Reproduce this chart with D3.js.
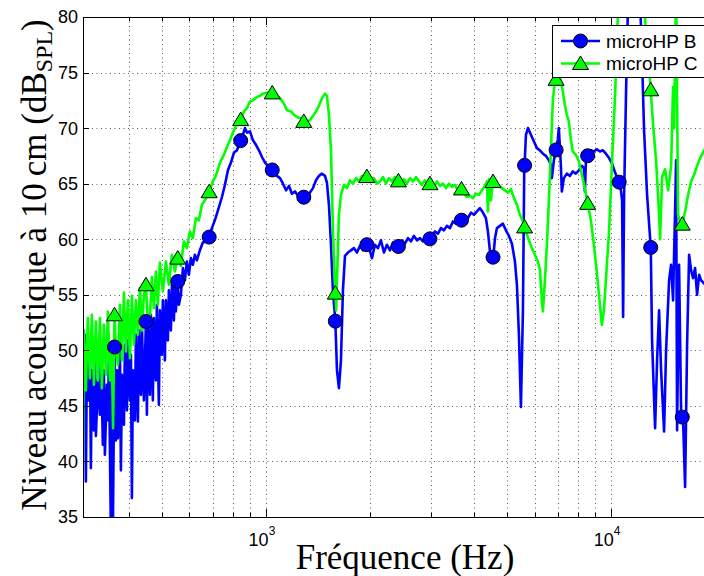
<!DOCTYPE html>
<html><head><meta charset="utf-8">
<script src="https://cdn.jsdelivr.net/npm/d3@7"></script>
<style>
body{margin:0;background:#fff}svg{display:block}
.sans{font-family:"Liberation Sans",Arial,sans-serif}
.serif{font-family:"Liberation Serif","DejaVu Serif",serif}
</style>
</head><body>
<svg id="c" width="704" height="576"></svg>
<script>
// ---------- data ----------
const seriesNames = ["microHP B", "microHP C"];
const xDomain = [295, 20000];
const yDomain = [35, 80];
const yTicks = [35, 40, 45, 50, 55, 60, 65, 70, 75, 80];
const xMajorTicks = [1000, 10000];
const xMajorExps = ["3", "4"];
const xMinorTicks = [400, 500, 600, 700, 800, 900, 2000, 3000, 4000, 5000, 6000, 7000, 8000, 9000];
const markerFreqs = [364, 449, 555, 684.5, 844.8, 1042.7, 1286.9, 1588.3, 1960.3, 2419.4, 2986, 3685.4, 4548.5, 5613.8, 6928.6, 8551.3, 10554, 13026, 16077];

// microHP B : [Hz, dB]
const dataB = [
[294.7,51.8],[296.7,44.6],[298.6,51.4],[300.7,38.2],[302.7,49.1],[306.8,45.5],[308.9,50.9],[310.9,39.4],[313.0,48.2],[317.2,42.8],[319.3,50.5],[321.5,42.3],[325.8,47.3],[330.2,44.2],[332.4,50.0],[336.8,41.5],[339.1,48.2],[341.4,40.6],[345.9,46.9],[348.3,43.7],[350.6,49.1],[355.3,33.8],[357.7,47.3],[360.1,33.8],[364,50.3],[367.4,41.9],[369.9,48.2],[372.4,42.1],[377.4,50.0],[379.9,39.2],[382.5,47.8],[387.6,43.3],[390.2,50.5],[395.4,44.6],[398.1,50.9],[403.4,45.5],[406.1,49.6],[408.8,36.7],[411.5,48.2],[417.1,43.7],[419.9,51.4],[425.5,43.6],[428.3,51.8],[434.1,46.0],[437.0,52.3],[442.8,45.5],[449,52.6],[451.8,44.2],[454.8,52.3],[460.9,46.0],[464.0,53.2],[470.2,45.5],[473.4,52.9],[479.7,47.3],[482.9,54.1],[489.4,45.1],[492.7,53.6],[499.3,49.6],[502.6,54.5],[509.4,49.1],[512.8,54.5],[519.7,50.9],[523.2,55.4],[530.2,51.8],[533.8,55.9],[541.0,52.7],[544.6,56.5],[548,53.5],[555,56.2],[559.3,54.1],[566.8,55.0],[574.5,57.4],[582.2,56.3],[590.0,58.0],[597.9,56.8],[605.9,58.3],[614.0,57.7],[622.3,58.6],[630.6,58.1],[643.4,59.0],[656.3,59.7],[669.6,59.8],[683.1,60.1],[697.0,61.0],[710.9,61.7],[725.8,62.6],[745.5,63.8],[760.5,64.9],[775.8,66.2],[791.6,66.9],[807.6,67.8],[824.0,68.0],[840.6,68.7],[857.5,69.4],[869.0,70.0],[880.8,69.6],[898.6,69.7],[916.7,68.9],[935.2,68.5],[954.1,68.0],[973.6,67.4],[993.4,66.9],[1013,66.6],[1034,66.4],[1055,66.0],[1076,65.7],[1098,65.5],[1120,65.0],[1143,64.4],[1166,64.8],[1189,64.1],[1214,64.3],[1238,63.9],[1263,63.6],[1289,63.8],[1314,63.9],[1341,64.2],[1368,64.6],[1396,65.3],[1424,65.7],[1453,65.9],[1482,65.7],[1502,65.1],[1522,63.1],[1543,59.5],[1563,55.4],[1588,52.7],[1606,48.2],[1627,46.6],[1649,49.1],[1671,55.4],[1694,58.5],[1728,58.8],[1763,59.0],[1799,59.2],[1835,58.8],[1872,59.4],[1910,59.0],[1948,59.6],[1988,59.3],[2028,58.3],[2069,59.5],[2111,59.2],[2153,59.9],[2197,58.8],[2241,59.5],[2287,59.0],[2333,59.7],[2380,59.1],[2428,59.4],[2477,59.9],[2527,59.6],[2579,60.1],[2631,59.8],[2684,60.3],[2738,59.9],[2793,60.1],[2850,59.8],[2907,60.3],[2966,59.9],[3026,60.3],[3087,60.7],[3150,60.5],[3213,61.0],[3278,60.8],[3344,61.2],[3412,61.0],[3481,61.6],[3551,61.4],[3623,61.8],[3696,61.7],[3771,62.1],[3847,61.9],[3925,62.4],[4004,62.2],[4085,62.5],[4168,62.8],[4252,62.4],[4338,61.9],[4396,60.7],[4456,58.9],[4515,58.3],[4555,58.4],[4610,60.1],[4669,61.0],[4763,61.2],[4859,61.4],[4957,60.8],[5057,60.3],[5160,59.6],[5264,58.0],[5335,55.9],[5406,51.4],[5479,44.9],[5553,53.6],[5600,65.9],[5665,69.4],[5741,70.0],[5857,69.4],[5976,68.8],[6096,68.2],[6219,68.0],[6345,67.7],[6472,67.5],[6603,67.1],[6691,66.7],[6736,65.5],[6826,67.1],[6917,67.9],[7010,69.0],[7056,70.0],[7151,66.7],[7199,64.3],[7295,65.5],[7442,65.9],[7597,65.7],[7745,66.1],[7901,65.9],[8066,66.2],[8230,66.6],[8340,66.4],[8395,64.3],[8451,66.9],[8566,67.6],[8739,68.0],[8915,67.9],[9094,68.1],[9280,67.9],[9467,68.0],[9658,67.7],[9867,67.3],[10066,66.8],[10270,66.0],[10477,65.3],[10619,65.0],[10761,63.5],[10833,53.0],[10905,63.9],[11051,73.4],[11200,81.5],[11578,87],[12134,81.5],[12297,76.1],[12460,69.8],[12712,64.0],[13030,59.2],[13143,50.9],[13411,43.0],[13590,49.1],[13773,53.6],[13959,48.2],[14240,42.7],[14431,50.0],[14724,56.3],[14921,57.7],[15121,54.5],[15325,62.6],[15428,67.1],[15531,42.8],[15739,57.7],[15952,44.4],[16165,43.7],[16382,37.7],[16602,50.5],[16826,58.6],[17052,57.2],[17281,56.5],[17513,57.4],[17749,55.0],[17988,56.8],[18232,56.3],[18600,56.0],[19360,56.2]
];

// microHP C : [Hz, dB]
const dataC = [
[294.7,39.2],[296.7,51.8],[300.7,46.4],[304.7,52.9],[308.9,47.5],[313.0,53.2],[317.2,46.9],[321.5,52.6],[325.8,47.3],[330.2,52.9],[334.6,46.6],[339.1,52.3],[343.7,47.8],[348.3,53.5],[353.0,47.3],[357.7,49.7],[360.5,43.0],[364,53.2],[367.4,50.2],[372.4,48.7],[377.4,54.1],[382.5,49.1],[387.6,55.2],[392.8,49.9],[398.1,54.5],[403.4,49.3],[408.8,54.9],[414.3,50.5],[419.9,54.5],[425.5,51.4],[431.2,55.6],[437.0,51.8],[442.8,54.9],[449,55.9],[454.8,52.3],[460.9,52.9],[467.1,56.6],[473.4,53.8],[479.7,57.1],[486.2,54.1],[492.7,57.9],[502.6,55.3],[512.8,58.0],[523.2,55.9],[533.8,58.6],[544.6,57.1],[555,58.3],[566.8,57.6],[578.3,59.8],[590.0,59.2],[601.9,60.7],[614.0,60.1],[626.5,61.9],[639.2,61.7],[652.0,63.1],[665.2,63.5],[683.1,64.2],[701.6,65.2],[715.7,65.7],[735.6,66.9],[755.4,67.6],[770.7,68.3],[786.4,68.9],[802.2,69.6],[818.3,70.2],[840.6,70.6],[863.5,71.5],[880.8,71.8],[898.6,72.4],[916.7,72.5],[941.4,72.8],[960.8,72.9],[980.2,73.1],[1007,73.2],[1034,73.2],[1062,73.1],[1098,72.7],[1128,72.2],[1150,71.6],[1182,71.5],[1206,71.2],[1230,71.0],[1255,70.9],[1280,70.6],[1306,70.6],[1341,70.7],[1368,71.1],[1396,71.5],[1424,72.0],[1453,72.7],[1482,73.1],[1502,72.9],[1522,71.2],[1543,68.0],[1563,60.8],[1588,55.2],[1597,53.6],[1606,56.3],[1627,62.2],[1649,64.0],[1683,64.9],[1716,64.6],[1751,65.3],[1787,65.0],[1823,65.5],[1860,65.2],[1897,65.7],[1936,65.2],[1975,65.9],[2015,65.3],[2055,65.5],[2097,65.0],[2139,65.2],[2182,65.6],[2227,65.0],[2272,65.5],[2318,65.2],[2364,65.6],[2412,65.3],[2461,65.0],[2511,65.4],[2561,65.0],[2613,65.5],[2666,65.2],[2720,65.6],[2775,65.2],[2831,64.9],[2888,65.3],[2947,64.8],[3006,65.1],[3067,64.7],[3129,65.2],[3192,64.8],[3257,65.0],[3322,64.6],[3390,65.0],[3458,64.7],[3528,64.9],[3599,64.4],[3672,64.6],[3746,64.2],[3822,63.8],[3899,63.9],[3978,63.7],[4058,64.1],[4140,64.0],[4224,64.4],[4309,64.8],[4367,65.2],[4396,62.5],[4426,65.4],[4485,63.5],[4545,65.2],[4637,65.0],[4731,64.8],[4827,64.6],[4924,64.4],[5024,64.2],[5126,64.5],[5229,63.7],[5335,63.1],[5443,62.2],[5553,61.6],[5665,60.7],[5780,59.9],[5896,59.2],[6016,58.6],[6137,58.0],[6219,57.2],[6302,54.5],[6345,53.5],[6430,56.3],[6516,59.5],[6603,63.5],[6691,68.0],[6780,72.5],[6871,74.2],[6963,74.5],[7056,74.8],[7151,74.3],[7247,73.3],[7344,72.1],[7442,71.2],[7542,70.6],[7642,69.0],[7745,67.9],[7901,67.6],[8066,67.0],[8230,65.8],[8395,64.6],[8566,63.1],[8739,61.7],[8915,59.5],[9094,57.0],[9280,54.1],[9404,52.3],[9530,53.6],[9658,56.3],[9867,60.8],[10066,67.1],[10270,73.0],[10407,78.5],[10530,82],[10905,85],[11503,87],[12134,85],[12460,81.5],[12712,76.6],[12971,74.3],[13232,70.3],[13500,67.1],[13773,62.2],[13866,60.0],[14052,65.6],[14334,66.3],[14624,64.4],[14921,66.6],[15121,73.7],[15222,70.0],[15428,83],[15637,62.2],[15849,61.5],[16062,61.3],[16382,62.5],[16715,64.0],[17052,65.2],[17398,65.8],[17749,66.6],[18110,67.3],[18600,68.0],[19360,68.5]
];

const colors = ["#0000ff", "#00ff00"];

// ---------- chart ----------
const svg = d3.select("#c");
const L = 83, R = 715, T = 17, B = 517;
const x = d3.scaleLog().domain(xDomain).range([L, R]);
const y = d3.scaleLinear().domain(yDomain).range([B, T]);

svg.append("rect").attr("width", 704).attr("height", 576).attr("fill", "#fff");
svg.append("defs").append("clipPath").attr("id", "clip")
  .append("rect").attr("x", L).attr("y", T).attr("width", R - L).attr("height", B - T);

// grid
const grid = svg.append("g").attr("stroke", "#333").attr("stroke-width", 0.8)
  .attr("stroke-dasharray", "1,3.5").attr("fill", "none");
yTicks.slice(1, -1).forEach(v => {
  grid.append("line").attr("x1", L).attr("x2", R).attr("y1", Math.round(y(v)) + 0.5).attr("y2", Math.round(y(v)) + 0.5);
});
xMinorTicks.concat(xMajorTicks).forEach(v => {
  const px = Math.round(x(v)) + 0.5;
  grid.append("line").attr("x1", px).attr("x2", px).attr("y1", T).attr("y2", B);
});

// lines + markers
const line = d3.line().x(d => x(d[0])).y(d => y(d[1]));
const plot = svg.append("g").attr("clip-path", "url(#clip)");
function interp(data, f) {
  const lf = Math.log10(f);
  for (let i = 0; i < data.length - 1; i++) {
    const a = data[i], b = data[i + 1];
    if (f >= a[0] && f <= b[0]) {
      const t = (lf - Math.log10(a[0])) / (Math.log10(b[0]) - Math.log10(a[0]));
      return a[1] + t * (b[1] - a[1]);
    }
  }
  return null;
}
const triPath = "M0,-7.5L8,6L-8,6Z";
function drawMarker(g, kind, cx, cy, col) {
  if (kind === 0) {
    g.append("circle").attr("cx", cx).attr("cy", cy).attr("r", 7)
      .attr("fill", col).attr("stroke", "#000").attr("stroke-width", 1);
  } else {
    g.append("path").attr("d", triPath).attr("transform", `translate(${cx},${cy})`)
      .attr("fill", col).attr("stroke", "#000").attr("stroke-width", 1);
  }
}
[dataB, dataC].forEach((data, k) => {
  plot.append("path").datum(data).attr("d", line).attr("fill", "none")
    .attr("stroke", colors[k]).attr("stroke-width", 2.6).attr("stroke-linejoin", "round");
  const mg = svg.append("g");
  markerFreqs.forEach(f => {
    const v = interp(data, f);
    if (v !== null && v >= yDomain[0] && v <= yDomain[1]) drawMarker(mg, k, x(f), y(v), colors[k]);
  });
});

// axes box & ticks
const ax = svg.append("g").attr("stroke", "#000").attr("stroke-width", 1).attr("fill", "none");
ax.append("path").attr("d", `M${R},${T + 0.5}H${L + 0.5}V${B + 0.5}H${R}`);
yTicks.forEach(v => {
  const py = Math.round(y(v)) + 0.5;
  ax.append("line").attr("x1", L).attr("x2", L + 6).attr("y1", py).attr("y2", py);
});
xMinorTicks.forEach(v => {
  const px = Math.round(x(v)) + 0.5;
  ax.append("line").attr("x1", px).attr("x2", px).attr("y1", B).attr("y2", B - 4);
  ax.append("line").attr("x1", px).attr("x2", px).attr("y1", T).attr("y2", T + 4);
});
xMajorTicks.forEach(v => {
  const px = Math.round(x(v)) + 0.5;
  ax.append("line").attr("x1", px).attr("x2", px).attr("y1", B).attr("y2", B - 8);
  ax.append("line").attr("x1", px).attr("x2", px).attr("y1", T).attr("y2", T + 8);
});

// tick labels
const yl = svg.append("g").attr("class", "sans").attr("font-size", 18).attr("fill", "#000");
yTicks.forEach(v => {
  yl.append("text").attr("x", 78).attr("y", y(v)).attr("dy", "0.36em")
    .attr("text-anchor", "end").text(v);
});
xMajorTicks.forEach((v, i) => {
  const t = yl.append("text").attr("x", x(v) - 4).attr("y", 546).attr("text-anchor", "middle");
  t.append("tspan").text("10");
  t.append("tspan").attr("font-size", 12).attr("dy", -11).text(xMajorExps[i]);
});

// axis titles
svg.append("text").attr("class", "serif").attr("x", 405).attr("y", 569).attr("text-anchor", "middle")
  .attr("font-size", 35).attr("fill", "#000")
  .text("Fréquence (Hz)");
const ylab = svg.append("text").attr("class", "serif").attr("transform", "translate(46,265) rotate(-90)")
  .attr("text-anchor", "middle").attr("font-size", 35).attr("fill", "#000");
ylab.append("tspan").text("Niveau acoustique à 10\u2009cm (dB");
ylab.append("tspan").attr("font-size", 24).attr("dy", 6).text("SPL");
ylab.append("tspan").attr("dy", -6).text(")");

// legend
const lg = svg.append("g");
lg.append("rect").attr("x", 552.5).attr("y", 25.5).attr("width", 170).attr("height", 52)
  .attr("fill", "#fff").attr("stroke", "#000").attr("stroke-width", 1);
[41, 63.5].forEach((ly, k) => {
  lg.append("line").attr("x1", 561).attr("x2", 600).attr("y1", ly).attr("y2", ly)
    .attr("stroke", colors[k]).attr("stroke-width", 2.6);
  drawMarker(lg, k, 580.5, ly, colors[k]);
  lg.append("text").attr("class", "sans").attr("x", 606).attr("y", ly).attr("dy", "0.36em")
    .attr("font-size", 19).attr("fill", "#000").text(seriesNames[k]);
});
</script>
</body></html>
